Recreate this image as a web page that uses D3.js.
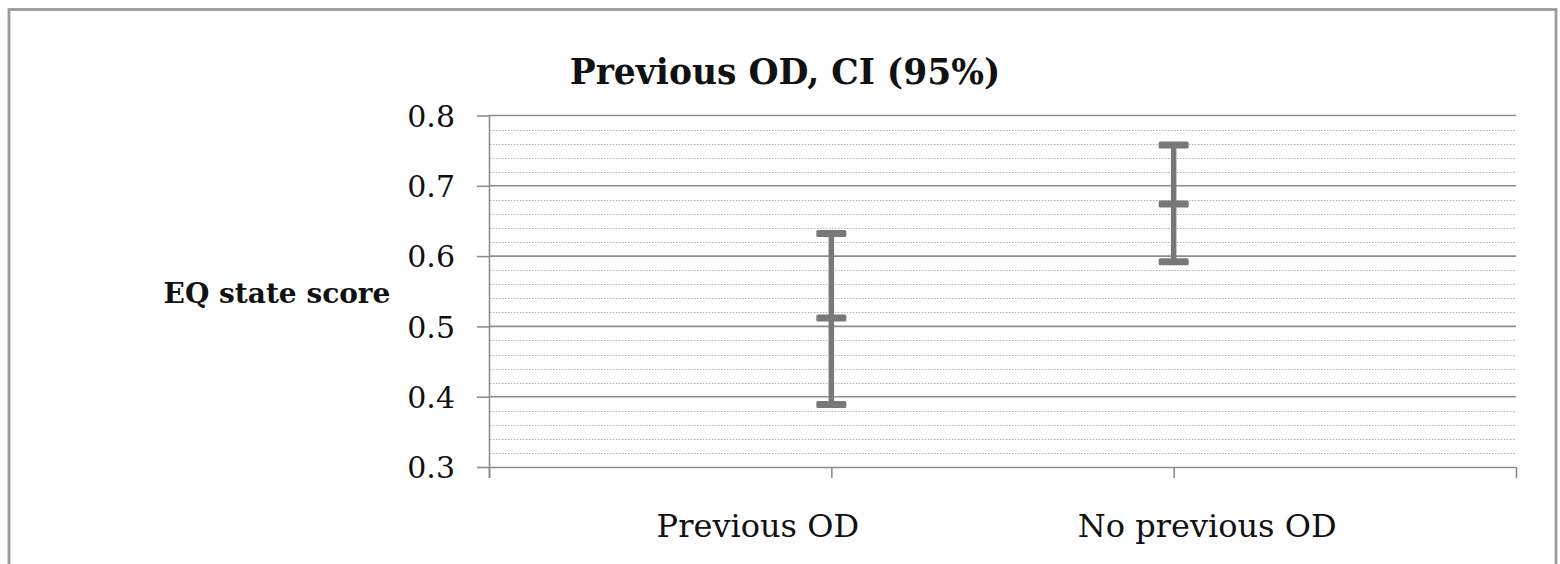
<!DOCTYPE html>
<html>
<head>
<meta charset="utf-8">
<script src="https://cdn.jsdelivr.net/npm/d3@7"></script>
<style>
  html, body { margin: 0; padding: 0; background: #fff; }
  svg { display: block; }
</style>
</head>
<body>
<svg id="chart" width="1560" height="564"></svg>
<script>
// ---- data ----
const categories = ["Previous OD", "No previous OD"];
const ciLower = [0.389, 0.592];
const ciMean  = [0.512, 0.674];
const ciUpper = [0.632, 0.758];
const yTicks  = [0.3, 0.4, 0.5, 0.6, 0.7, 0.8];
const titleText = "Previous OD, CI (95%)";
const yLabelText = "EQ state score";

// ---- layout ----
const W = 1560, H = 564;
const plot = { left: 489, right: 1516, top: 115.5, bottom: 467 };
const labelShift = [-74, 33];
const font = "'DejaVu Serif', 'Liberation Serif', serif";

const svg = d3.select("#chart");

// outer frame
svg.append("rect")
  .attr("x", 9).attr("y", 9.5)
  .attr("width", 1547).attr("height", 700)
  .attr("fill", "none").attr("stroke", "#9c9c9c").attr("stroke-width", 2.8);

const y = d3.scaleLinear().domain([0.3, 0.8]).range([plot.bottom, plot.top]);
const x = d3.scalePoint().domain(categories).range([plot.left, plot.right]).padding(1);

// minor dotted grid
const minor = d3.range(0.3, 0.8001, 0.02).filter(v => Math.abs(v * 10 - Math.round(v * 10)) > 1e-6);
svg.append("g").selectAll("line").data(minor).join("line")
  .attr("x1", plot.left + 1).attr("x2", plot.right)
  .attr("y1", d => Math.round(y(d)) + 0.5).attr("y2", d => Math.round(y(d)) + 0.5)
  .attr("stroke", "#b0b0b0").attr("stroke-width", 1)
  .attr("stroke-dasharray", "1.5,1.5");

// major grid
svg.append("g").selectAll("line").data(yTicks.filter(v => v > 0.3)).join("line")
  .attr("x1", plot.left).attr("x2", plot.right)
  .attr("y1", d => y(d)).attr("y2", d => y(d))
  .attr("stroke", "#8e8e8e").attr("stroke-width", 1.6);

// y axis
const yAxis = svg.append("g")
  .attr("transform", `translate(${plot.left},0)`)
  .call(d3.axisLeft(y).tickValues(yTicks).tickSize(12).tickPadding(22).tickFormat(d3.format(".1f")).tickSizeOuter(0));
yAxis.select(".domain").attr("stroke", "#8e8e8e").attr("stroke-width", 1.6)
  .attr("d", `M0.5,${plot.top}V${plot.bottom + 11}`);
yAxis.selectAll(".tick line").attr("stroke", "#8e8e8e").attr("stroke-width", 1.6);
yAxis.selectAll(".tick text")
  .attr("font-family", font).attr("font-size", 30).attr("fill", "#111")
  .attr("dy", "0.36em");

// x axis
const xAxis = svg.append("g")
  .attr("transform", `translate(0,${plot.bottom})`)
  .call(d3.axisBottom(x).tickSize(11).tickSizeOuter(11).tickPadding(36));
xAxis.select(".domain").attr("stroke", "#8e8e8e").attr("stroke-width", 1.6);
xAxis.selectAll(".tick line").attr("stroke", "#8e8e8e").attr("stroke-width", 1.6);
xAxis.selectAll(".tick text")
  .attr("font-family", font).attr("font-size", 32).attr("fill", "#111")
  .attr("x", (d, i) => labelShift[i])
  .attr("dy", "0.71em");

// error bars
const barColor = "#787878";
const capW = 30;
const g = svg.append("g");
categories.forEach((c, i) => {
  const cx = x(c);
  g.append("line")
    .attr("x1", cx).attr("x2", cx)
    .attr("y1", y(ciUpper[i])).attr("y2", y(ciLower[i]))
    .attr("stroke", barColor).attr("stroke-width", 5.5);
  [ciUpper[i], ciMean[i], ciLower[i]].forEach(v => {
    g.append("rect")
      .attr("x", cx - capW / 2).attr("width", capW)
      .attr("y", y(v) - 3.5).attr("height", 7)
      .attr("rx", 1.5)
      .attr("fill", barColor);
  });
});

// title
svg.append("text")
  .attr("x", 785).attr("y", 84)
  .attr("text-anchor", "middle")
  .attr("font-family", font).attr("font-weight", "bold").attr("font-size", 34.5)
  .attr("fill", "#111")
  .text(titleText);

// y label
svg.append("text")
  .attr("x", 277).attr("y", 303)
  .attr("text-anchor", "middle")
  .attr("font-family", font).attr("font-weight", "bold").attr("font-size", 28)
  .attr("fill", "#111")
  .text(yLabelText);
</script>
</body>
</html>
